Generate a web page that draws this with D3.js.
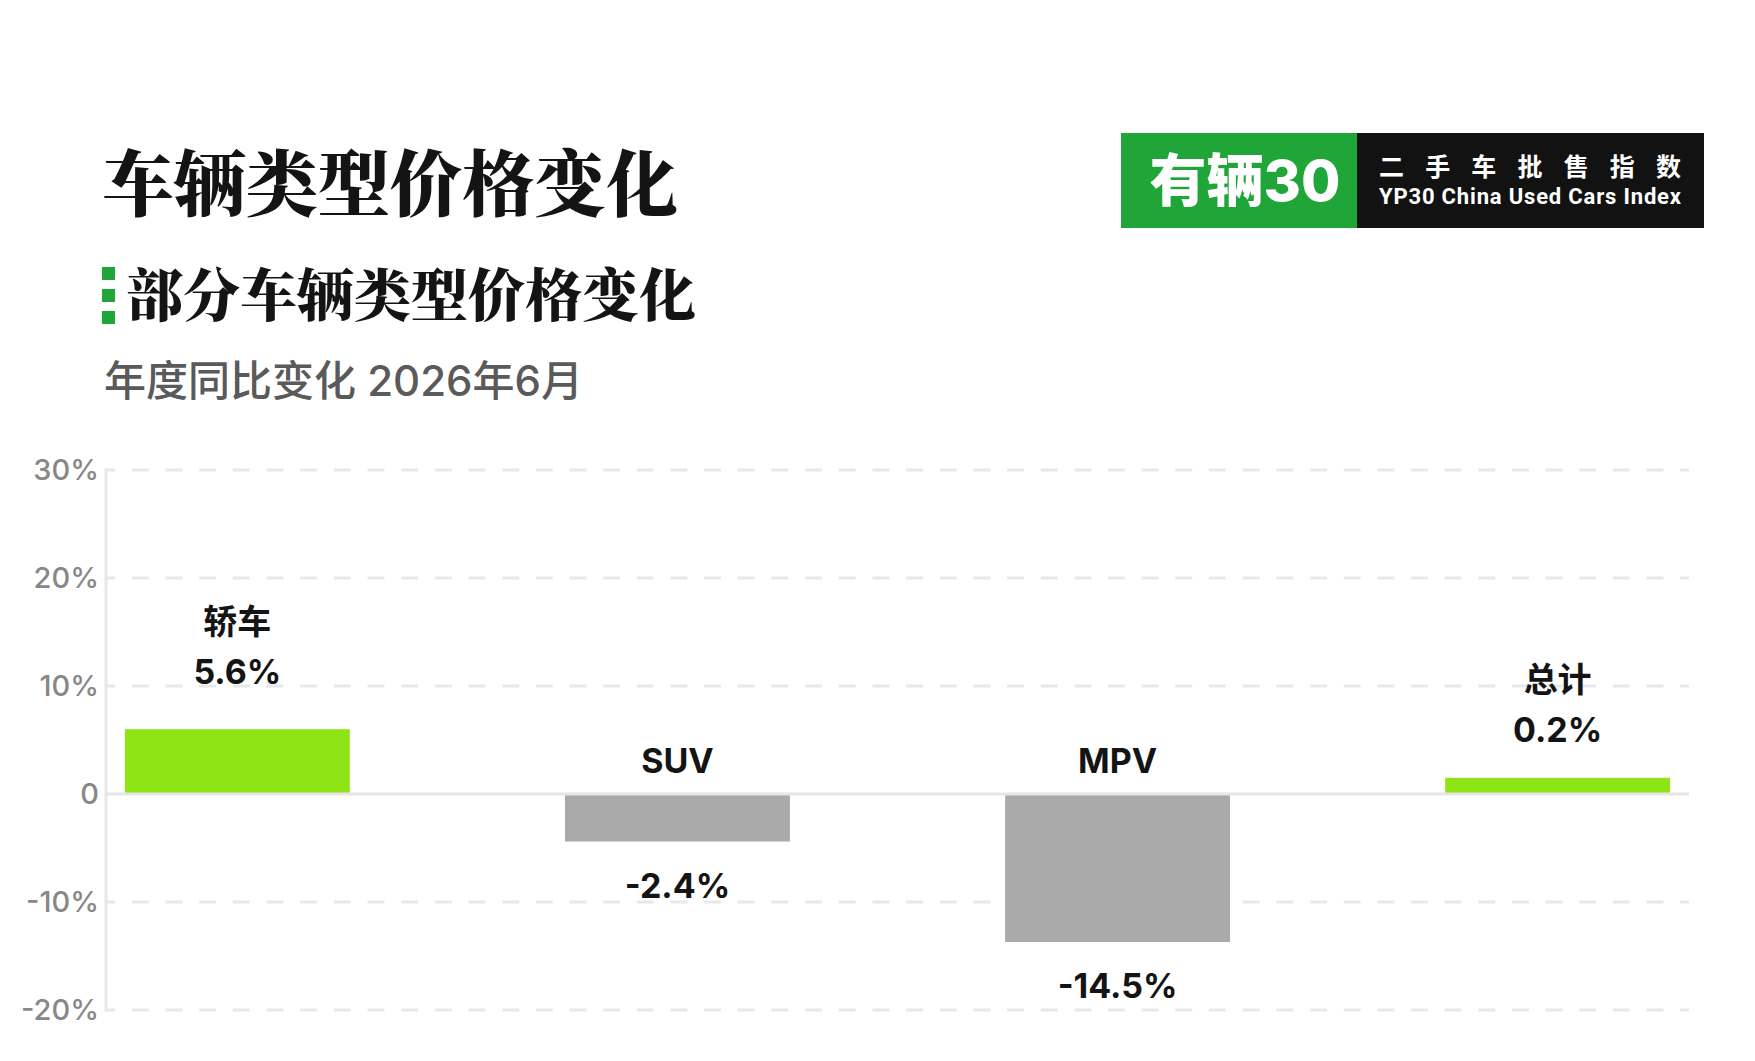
<!DOCTYPE html>
<html>
<head>
<meta charset="utf-8">
<script src="https://cdn.jsdelivr.net/npm/d3@7"></script>
<style>
  html, body { margin: 0; padding: 0; background: #ffffff; }
  svg { display: block; }
</style>
</head>
<body>
<svg id="chart" width="1755" height="1061"></svg>
<script>
// ---- data ----
const categories = ["轿车", "SUV", "MPV", "总计"];
const barValues = [6.0, -4.4, -13.7, 1.5];           // bar lengths as drawn
const valueLabels = ["5.6%", "-2.4%", "-14.5%", "0.2%"]; // printed labels
const yTickValues = [-20, -10, 0, 10, 20, 30];
const yTickLabels = ["-20%", "-10%", "0", "10%", "20%", "30%"];
const titleText = "车辆类型价格变化";
const subtitleText = "部分车辆类型价格变化";
const noteText = "年度同比变化 2026年6月";
const logoMain = "有辆30";
const logoCn = "二手车批售指数";
const logoEn = "YP30 China Used Cars Index";

// ---- layout ----
const svg = d3.select("#chart");
const W = 1755, H = 1061;
const axisX = 106, gridRight = 1689;
const y = d3.scaleLinear().domain([-20, 30]).range([1010, 470]);
const x = d3.scaleBand().domain(categories).range([106, 1689]).paddingInner(0.489).paddingOuter(0.043);

const latin = "Inter, 'Noto Sans CJK SC', sans-serif";
const cjk = "'Noto Sans CJK SC', sans-serif";
const serif = "'Noto Serif CJK SC', 'Noto Serif SC', 'Noto Sans CJK SC', serif";

svg.append("rect").attr("width", W).attr("height", H).attr("fill", "#ffffff");

// ---- titles ----
svg.append("text").attr("x", 102).attr("y", 210)
  .attr("font-family", serif).attr("font-weight", 900).attr("font-size", 72)
  .attr("fill", "#141414").text(titleText);

[267, 289, 311].forEach(yy => {
  svg.append("rect").attr("x", 102).attr("y", yy).attr("width", 13).attr("height", 13).attr("fill", "#20a638");
});
svg.append("text").attr("x", 126).attr("y", 316)
  .attr("font-family", serif).attr("font-weight", 900).attr("font-size", 57)
  .attr("fill", "#141414").text(subtitleText);

svg.append("text").attr("x", 104).attr("y", 396)
  .attr("font-family", latin).attr("font-weight", 500).attr("font-size", 42)
  .attr("fill", "#5a5a5a").text(noteText);

// ---- logo ----
svg.append("rect").attr("x", 1121).attr("y", 133).attr("width", 236).attr("height", 95).attr("fill", "#20a638");
svg.append("rect").attr("x", 1357).attr("y", 133).attr("width", 347).attr("height", 95).attr("fill", "#121212");
svg.append("text").attr("x", 1245).attr("y", 201).attr("text-anchor", "middle")
  .attr("font-family", latin).attr("font-weight", 800).attr("font-size", 57)
  .attr("fill", "#ffffff").text(logoMain);
svg.append("text").attr("x", 1379).attr("y", 176)
  .attr("font-family", cjk).attr("font-weight", 700).attr("font-size", 25)
  .attr("textLength", 302).attr("lengthAdjust", "spacing")
  .attr("fill", "#ffffff").text(logoCn);
svg.append("text").attr("x", 1379).attr("y", 204)
  .attr("font-family", "Roboto, Inter, sans-serif").attr("font-weight", 700).attr("font-size", 22)
  .attr("textLength", 302).attr("lengthAdjust", "spacing")
  .attr("fill", "#ffffff").text(logoEn);

// ---- grid ----
const grid = svg.append("g");
grid.selectAll("line.grid").data(yTickValues.filter(v => v !== 0)).join("line")
  .attr("class", "grid")
  .attr("x1", axisX).attr("x2", gridRight)
  .attr("y1", d => y(d)).attr("y2", d => y(d))
  .attr("stroke", "#e8e8e8").attr("stroke-width", 3)
  .attr("stroke-dasharray", "16.83 16.83").attr("stroke-dashoffset", 7.7);

// y axis labels via d3 axis
const yAxis = d3.axisLeft(y).tickValues(yTickValues)
  .tickFormat(d => yTickLabels[yTickValues.indexOf(d)]).tickSize(0).tickPadding(7);
const gy = svg.append("g").attr("transform", `translate(${axisX},0)`).call(yAxis);
gy.select(".domain").remove();
gy.selectAll("text").attr("font-family", latin).attr("font-weight", 500)
  .attr("font-size", 29).attr("fill", "#888888");

svg.append("line").attr("x1", axisX).attr("x2", axisX).attr("y1", y(30) - 1.5).attr("y2", y(-20) + 1.5)
  .attr("stroke", "#e8e8e8").attr("stroke-width", 3);

// ---- bars ----
const data = categories.map((c, i) => ({ c, v: barValues[i], label: valueLabels[i], lv: parseFloat(valueLabels[i]) }));
svg.append("g").selectAll("rect").data(data).join("rect")
  .attr("x", d => x(d.c)).attr("width", x.bandwidth())
  .attr("y", d => y(Math.max(0, d.v)))
  .attr("height", d => Math.abs(y(d.v) - y(0)))
  .attr("fill", d => d.v >= 0 ? "#8ee414" : "#aaaaaa");

svg.append("line").attr("x1", axisX).attr("x2", gridRight).attr("y1", y(0)).attr("y2", y(0))
  .attr("stroke", "#e6e6e6").attr("stroke-width", 3);

// ---- labels ----
const lab = svg.append("g").attr("text-anchor", "middle").attr("font-family", latin)
  .attr("font-weight", 700).attr("font-size", 34).attr("fill", "#141414");
data.forEach(d => {
  const cx = x(d.c) + x.bandwidth() / 2;
  let nameY, valY;
  if (d.lv >= 0) {
    nameY = y(d.lv) - 112;
    valY = y(d.lv) - 62;
  } else {
    nameY = y(0) - 33;
    valY = y(d.v) + 44;
  }
  lab.append("text").attr("x", cx).attr("y", nameY).attr("dy", "0.36em").text(d.c);
  lab.append("text").attr("x", cx).attr("y", valY).attr("dy", "0.36em").text(d.label);
});
</script>
</body>
</html>
